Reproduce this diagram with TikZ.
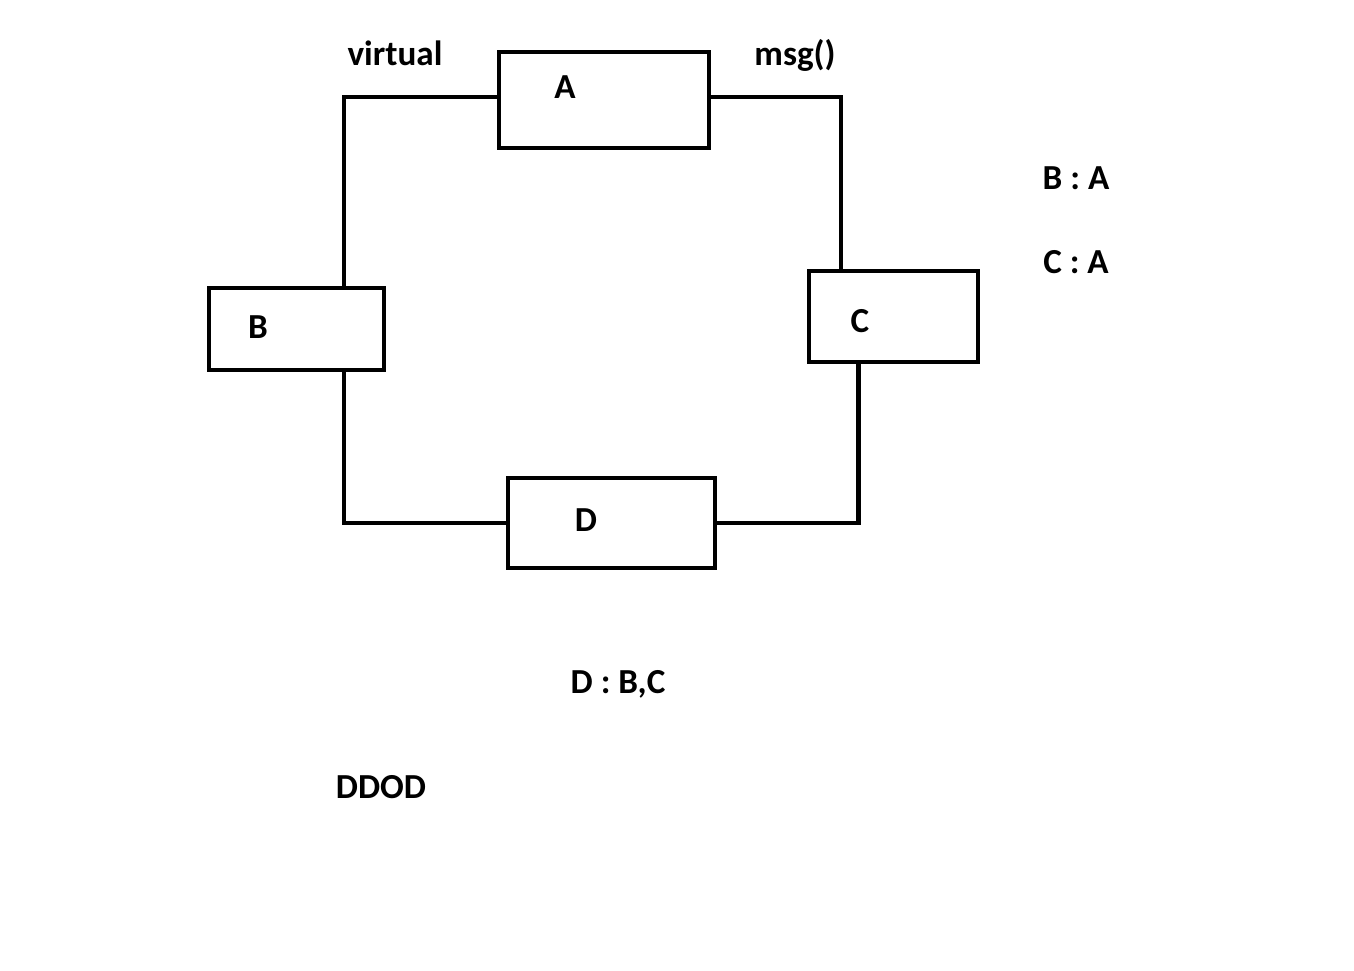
\documentclass[tikz,border=0pt]{standalone}
\usepackage{fontspec}
\setmainfont{Carlito}
\usetikzlibrary{calc}

\begin{document}
\begin{tikzpicture}[x=0.02cm,y=-0.02cm,line width=2.4pt,
  box node/.style={rectangle,draw,inner sep=0pt},
  text node/.style={font=\bfseries\fontsize{20}{24}\selectfont,anchor=base,inner sep=0pt}]
  \useasboundingbox (0,0) rectangle (1354,970);

  \node[box node,minimum width=4.2cm,minimum height=1.92cm] (boxA) at (604,100) {};
  \node[box node,minimum width=3.5cm,minimum height=1.64cm] (boxB) at (296.5,329) {};
  \node[box node,minimum width=3.38cm,minimum height=1.82cm] (boxC) at (893.5,316.5) {};
  \node[box node,minimum width=4.14cm,minimum height=1.8cm] (boxD) at (611.5,523) {};

  \node[text node] (lblA) at (565,98) {A};
  \node[text node] (lblB) at (258,338) {B};
  \node[text node] (lblC) at (860,332) {C};
  \node[text node] (lblD) at (586,531) {D};

  \node[text node] (virt) at (395,65) {virtual};
  \node[text node] (msg) at (795,65) {msg()};
  \node[text node] (ba) at (1076,189) {B : A};
  \node[text node] (ca) at (1076,273) {C : A};
  \node[text node] (dbc) at (618,693) {D : B,C};
  \node[text node] (ddod) at (381,798) {DDOD};

  \draw ($(boxA.west)+(0,-3)$) -| ($(boxB.north)+(47.5,0)$);
  \draw ($(boxA.east)+(0,-3)$) -| ($(boxC.north)+(-52.5,0)$);
  \draw ($(boxB.south)+(47.5,0)$) |- (boxD.west);
  \draw (boxD.east) -| ($(boxC.south)+(-35,0)$);
\end{tikzpicture}
\end{document}
